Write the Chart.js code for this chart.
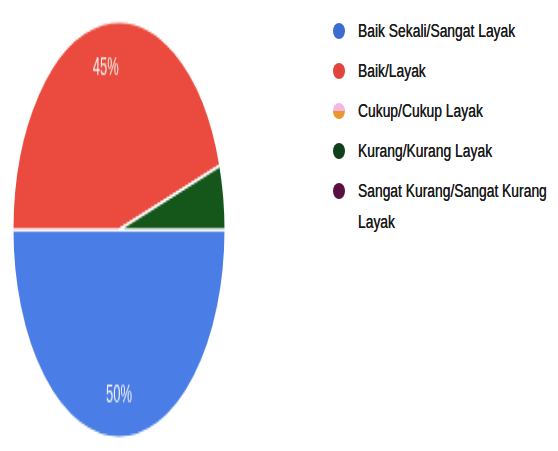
<!DOCTYPE html>
<html>
<head>
<meta charset="utf-8">
<script src="https://cdn.jsdelivr.net/npm/chart.js@4/dist/chart.umd.min.js"></script>
<style>
    body { margin: 0; background: #fff; width: 558px; height: 451px; overflow: hidden; position: relative; }
    #pie-box { position: absolute; left: 12px; top: 20px; width: 214px; height: 214px; transform: scaleY(1.96); transform-origin: top left; }
    #legend { position: absolute; left: 332px; top: 16px; margin: 0; padding: 0; list-style: none;
        font-family: "Liberation Sans", Arial, sans-serif; font-size: 18px; color: #1a1a1a; }
    #legend li { position: relative; padding-left: 26px; line-height: 31px; margin-bottom: 9px; }
    #legend .txt { display: inline-block; width: 262px; transform: scaleX(0.77); transform-origin: left top;
        text-shadow: 0 0 0.6px #1a1a1a; }
    #legend .dot { position: absolute; left: 1px; top: 7px; width: 12px; height: 16px; border-radius: 50%; }
</style>
</head>
<body>
<div id="pie-box"><canvas id="pie" width="214" height="214"></canvas></div>
<ul id="legend"></ul>
<script>
    // survey answers, share of respondents (%)
    const categories = ['Baik Sekali/Sangat Layak', 'Baik/Layak', 'Cukup/Cukup Layak', 'Kurang/Kurang Layak', 'Sangat Kurang/Sangat Kurang Layak'];
    const values = [50, 45, 0, 5, 0];
    const colors = ['#4a7ee6', '#eb4a3e', '#f0a03a', '#15571a', '#6a1248'];
    const legendColors = ['#3d6cd0', '#e0443c', 'linear-gradient(#f3b8e2 50%, #e8982c 50%)', '#10401a', '#5c0f42'];

    //build legend next to the pie
    const legend = document.getElementById('legend');
    categories.forEach((name, i) => {
        const li = document.createElement('li');
        li.innerHTML = `<span class="dot" style="background:${legendColors[i]}"></span><span class="txt">${name}</span>`;
        legend.appendChild(li);
    });

    //percent labels inside the slices
    const sliceLabels = {
        id: 'sliceLabels',
        afterDatasetsDraw(chart) {
            const ctx = chart.ctx;
            const meta = chart.getDatasetMeta(0);
            ctx.save();
            ctx.fillStyle = '#f2f2f2';
            ctx.font = '13px "Liberation Sans", Arial, sans-serif';
            ctx.textAlign = 'center';
            ctx.textBaseline = 'middle';
            meta.data.forEach((arc, i) => {
                if (values[i] < 10) return;
                const p = arc.getProps(['x', 'y', 'startAngle', 'endAngle', 'outerRadius']);
                const mid = (p.startAngle + p.endAngle) / 2;
                const r = p.outerRadius * 0.79;
                ctx.fillText(values[i] + '%', p.x + Math.cos(mid) * r, p.y + Math.sin(mid) * r);
            });
            ctx.restore();
        }
    };

    new Chart(document.getElementById('pie').getContext('2d'), {
        type: 'pie',
        data: {
            labels: categories,
            datasets: [{
                data: values,
                backgroundColor: colors,
                borderColor: '#ffffff',
                borderWidth: 1.5
            }]
        },
        options: {
            responsive: false,
            animation: false,
            rotation: 90,
            layout: { padding: 0 },
            plugins: {
                legend: { display: false },
                tooltip: { enabled: false }
            }
        },
        plugins: [sliceLabels]
    });
</script>
</body>
</html>
